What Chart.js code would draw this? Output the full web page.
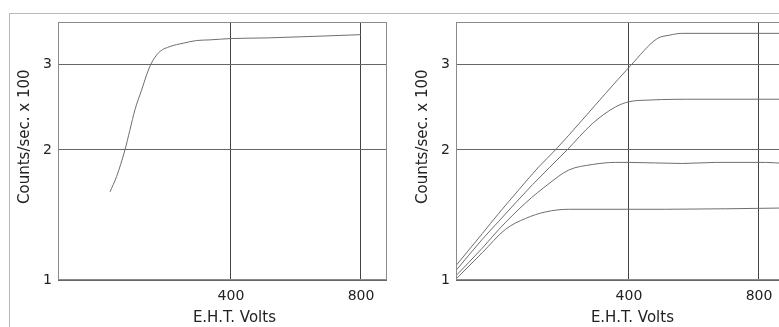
<!DOCTYPE html>
<html>
<head>
<meta charset="utf-8">
<script src="https://cdn.jsdelivr.net/npm/chart.js"></script>
<style>
  html, body { margin: 0; padding: 0; background: #fff; overflow: hidden; }
  #page { position: relative; width: 779px; height: 327px; overflow: hidden; }
  #frame { position: absolute; left: 9px; top: 13px; width: 800px; height: 400px;
           border-top: 1px solid #b8b8b8; border-left: 1px solid #b8b8b8; }
  canvas { position: absolute; top: 0; }
  #left { left: 0; }
  #right { left: 398px; }
</style>
</head>
<body>
<div id="page">
  <div id="frame"></div>
  <canvas id="left" width="400" height="327"></canvas>
  <canvas id="right" width="400" height="327"></canvas>
</div>
<script>
// tick labels
const xTicks = [400, 800];
const yTicks = [1, 2, 3];

// left panel: single plateau curve
const leftVolts  = [28, 48, 74, 89, 105, 125, 146, 161, 182, 212, 253, 294, 335, 400, 511, 800];
const leftCounts = [1.62, 1.75, 2.00, 2.20, 2.43, 2.66, 2.92, 3.06, 3.18, 3.25, 3.30, 3.34, 3.35, 3.37, 3.38, 3.43];

// right panel: four curves
const rightVoltsA  = [-135, -51, 0, 62, 123, 174, 256, 328, 405, 487, 523, 564, 880];
const rightCountsA = [1.08, 1.30, 1.45, 1.64, 1.84, 2.00, 2.31, 2.62, 2.98, 3.37, 3.42, 3.45, 3.45];
const rightVoltsB  = [-135, -51, 0, 103, 210, 287, 359, 400, 462, 615, 880];
const rightCountsB = [1.05, 1.26, 1.39, 1.68, 2.00, 2.27, 2.46, 2.52, 2.54, 2.55, 2.55];
const rightVoltsC  = [-135, -51, 0, 82, 154, 215, 287, 359, 400, 564, 667, 820, 880];
const rightCountsC = [1.02, 1.20, 1.33, 1.53, 1.69, 1.81, 1.86, 1.88, 1.88, 1.87, 1.88, 1.88, 1.87];
const rightVoltsD  = [-135, -51, 20, 82, 144, 215, 308, 513, 880];
const rightCountsD = [1.00, 1.17, 1.33, 1.41, 1.46, 1.48, 1.48, 1.48, 1.49];

const pts = (xs, ys) => xs.map((x, i) => ({ x: x, y: ys[i] }));

// the printed counts axis is a log(v + 0.5) scale
const SHIFT = 0.5;
class ShiftLogScale extends Chart.LinearScale {
  f(v) { return Math.log(v + SHIFT); }
  getPixelForValue(v) {
    if (v === null || v === undefined) return NaN;
    const lo = this.f(this.min), hi = this.f(this.max);
    return this.getPixelForDecimal((this.f(v) - lo) / (hi - lo));
  }
  getValueForPixel(p) {
    const lo = this.f(this.min), hi = this.f(this.max);
    return Math.exp(lo + this.getDecimalForPixel(p) * (hi - lo)) - SHIFT;
  }
}
ShiftLogScale.id = 'shiftlog';
ShiftLogScale.defaults = {};
Chart.register(ShiftLogScale);

// box round the plot area
const boxPlugin = {
  id: 'box',
  afterDraw(chart) {
    const a = chart.chartArea, ctx = chart.ctx;
    ctx.save();
    ctx.strokeStyle = '#8a8a8a';
    ctx.lineWidth = 1;
    ctx.strokeRect(a.left + 0.5, a.top + 0.5, a.right - a.left - 1, a.bottom - a.top - 1);
    ctx.restore();
  }
};

const font = { family: 'DejaVu Sans', size: 15 };
const tickFont = { family: 'DejaVu Sans', size: 14 };

function makeChart(id, series) {
  return new Chart(document.getElementById(id), {
    type: 'line',
    data: {
      datasets: series.map(s => ({
        data: s,
        borderColor: '#6e6e6e',
        borderWidth: 1,
        pointRadius: 0,
        cubicInterpolationMode: 'monotone',
        fill: false
      }))
    },
    options: {
      responsive: false,
      animation: false,
      layout: { padding: { top: 22, right: 13, left: 0, bottom: 0 } },
      plugins: { legend: { display: false }, tooltip: { enabled: false } },
      scales: {
        x: {
          type: 'linear',
          min: -132,
          max: 880,
          afterBuildTicks: s => { s.ticks = xTicks.map(v => ({ value: v })); },
          afterFit: s => { s.height = 47; },
          grid: { color: '#444', drawTicks: false },
          border: { display: false },
          ticks: { color: '#222', font: tickFont, padding: 8, maxRotation: 0, callback: v => v },
          title: { display: true, text: '     E.H.T. Volts', color: '#222', font: font,
                   padding: { top: 0, bottom: 0 } }
        },
        y: {
          type: 'shiftlog',
          min: 1,
          max: 3.63,
          afterBuildTicks: s => { s.ticks = yTicks.map(v => ({ value: v })); },
          afterFit: s => { s.width = 58; },
          grid: { color: '#666', drawTicks: false },
          border: { display: false },
          ticks: { color: '#222', font: tickFont, padding: 6, callback: v => v },
          title: { display: true, text: '      Counts/sec. x 100', color: '#222', font: font,
                   padding: { top: 16, bottom: 0 } }
        }
      }
    },
    plugins: [boxPlugin]
  });
}

makeChart('left', [pts(leftVolts, leftCounts)]);
makeChart('right', [
  pts(rightVoltsA, rightCountsA),
  pts(rightVoltsB, rightCountsB),
  pts(rightVoltsC, rightCountsC),
  pts(rightVoltsD, rightCountsD)
]);
</script>
</body>
</html>
